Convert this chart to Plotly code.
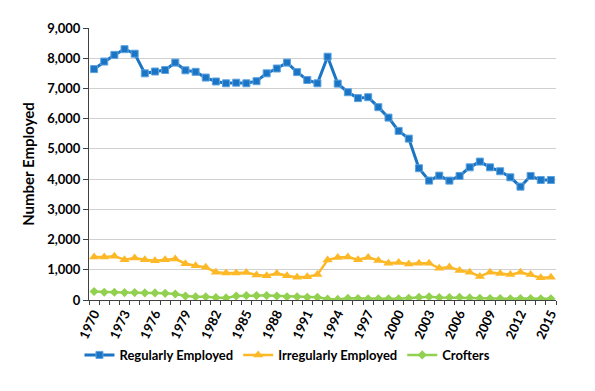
import plotly.graph_objects as go

years = list(range(1970, 2016))

regularly_employed = [
    7640, 7890, 8110, 8300, 8150, 7500, 7560, 7610, 7855, 7600,
    7550, 7360, 7230, 7170, 7190, 7170, 7240, 7500, 7660, 7855,
    7540, 7280, 7170, 8050, 7160, 6875, 6680, 6710, 6380, 6035,
    5595, 5340, 4360, 3950, 4115, 3950, 4105, 4390, 4580, 4390,
    4260, 4060, 3750, 4105, 3970, 3970,
]

irregularly_employed = [
    1420, 1420, 1450, 1330, 1390, 1330, 1300, 1330, 1360, 1200,
    1130, 1080, 920, 890, 890, 910, 830, 800, 880, 800,
    750, 770, 840, 1320, 1410, 1420, 1330, 1410, 1310, 1220,
    1240, 1190, 1220, 1220, 1050, 1090, 980, 920, 780, 920,
    880, 840, 920, 840, 740, 750,
]

crofters = [
    280, 255, 255, 245, 245, 235, 235, 220, 200, 130,
    110, 110, 80, 70, 130, 145, 145, 145, 130, 110,
    110, 90, 90, 30, 20, 60, 50, 40, 40, 40,
    40, 60, 90, 110, 80, 80, 90, 70, 60, 50,
    50, 40, 50, 50, 40, 40,
]

label_years = list(range(1970, 2016, 3))
y_ticks = list(range(0, 9001, 1000))

FONT = "Lato"

fig = go.Figure()
fig.add_trace(go.Scatter(
    x=years, y=regularly_employed, name="Regularly Employed",
    mode="lines+markers",
    line=dict(color="#1C74C4", width=3),
    marker=dict(symbol="square", size=7, color="#1C74C4",
                line=dict(color="#5BA3E0", width=1)),
))
fig.add_trace(go.Scatter(
    x=years, y=irregularly_employed, name="Irregularly Employed",
    mode="lines+markers",
    line=dict(color="#FDB827", width=2.5),
    marker=dict(symbol="triangle-up", size=9, color="#FDB827"),
))
fig.add_trace(go.Scatter(
    x=years, y=crofters, name="Crofters",
    mode="lines+markers",
    line=dict(color="#92D050", width=2.5),
    marker=dict(symbol="diamond", size=7, color="#92D050"),
))

fig.update_layout(
    width=587, height=383,
    margin=dict(l=81, r=39, t=20, b=91, autoexpand=False),
    paper_bgcolor="white", plot_bgcolor="white",
    font=dict(family=FONT, size=13, color="black", weight="bold"),
    showlegend=True,
    legend=dict(orientation="h", x=0.425, xanchor="center", y=-0.202, yanchor="middle",
                font=dict(family=FONT, size=13, weight="bold"),
                itemwidth=30, tracegroupgap=0),
    xaxis=dict(
        range=[1969.5, 2015.5], automargin=False,
        tickmode="array", tickvals=label_years, ticktext=[str(y) for y in label_years],
        tickangle=-65, ticks="", showgrid=False,
        showline=True, linecolor="#404040", linewidth=1,
        tickfont=dict(family=FONT, size=13, weight="bold"),
        minor=dict(tick0=1969.5, dtick=1, ticks="outside", ticklen=4,
                   tickcolor="#404040", showgrid=False),
        zeroline=False,
    ),
    yaxis=dict(
        range=[0, 9000], automargin=False,
        tickmode="array", tickvals=y_ticks,
        ticktext=[f"{v:,}" for v in y_ticks],
        ticks="outside", ticklen=5, tickcolor="#404040",
        showline=True, linecolor="#404040", linewidth=1,
        showgrid=True, gridcolor="#D0D0D0", gridwidth=1,
        zeroline=False,
        tickfont=dict(family=FONT, size=13, weight="bold"),
        title=dict(text="Number Employed", font=dict(family=FONT, size=15, weight="bold"), standoff=8),
    ),
)

fig.write_html("out.html")
